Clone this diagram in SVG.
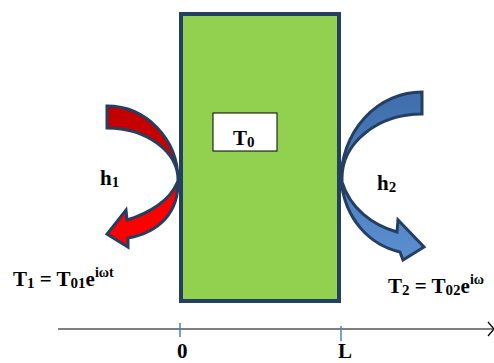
<svg xmlns="http://www.w3.org/2000/svg" width="494" height="363" viewBox="0 0 494 363">
<style>
.lbl{font-family:"Liberation Serif","Times New Roman",serif;font-weight:bold;font-size:21px;fill:#000}
.arr{stroke:#243f60;stroke-width:3;stroke-linejoin:miter}
.tick{stroke:#4f81bd;stroke-width:1.5}
</style>
<defs>
<linearGradient id="gRed" x1="0" y1="105" x2="0" y2="248" gradientUnits="userSpaceOnUse">
<stop offset="0" stop-color="#c00000"/>
<stop offset="0.5" stop-color="#d00000"/>
<stop offset="0.65" stop-color="#ff0000"/>
<stop offset="1" stop-color="#ff0000"/>
</linearGradient>
<linearGradient id="gBlue" x1="0" y1="92" x2="0" y2="260" gradientUnits="userSpaceOnUse">
<stop offset="0" stop-color="#3f6eac"/>
<stop offset="1" stop-color="#5a8fd0"/>
</linearGradient>
</defs>
<rect width="494" height="363" fill="#fff"/>
<g id="slab">
<rect x="181" y="14" width="158" height="287" fill="#92d050" stroke="#243f60" stroke-width="4"/>
</g>
<g id="t0box">
<rect x="213" y="113" width="64" height="38" fill="#fff" stroke="#000" stroke-width="1"/>
<text class="lbl" x="233" y="145">T<tspan font-size="15" dy="2">0</tspan></text>
</g>
<g id="connectors">
<path id="arrow-h1" class="arr" fill="url(#gRed)" d="M107,106 A71,74 0 0 1 178,180 C179,212 160,232 128,238 L128,247 L107,234 L126,210 L127,220 C150,213 170,200 177,183 L178,181 A71,52 0 0 0 107,128 Z"/>
<path id="arrow-h2" class="arr" fill="url(#gBlue)" d="M422,92 A81,88 0 0 0 341,180 C345,220 370,245 400,252 L403,260 L424,247 L398,220 L397,232 C372,225 350,208 342,182 L342,178 A80,64 0 0 1 422,114 Z"/>
<line x1="58" y1="329" x2="493" y2="329" stroke="#000" stroke-width="1.2"/>
<polyline points="488,322 494,329 488,336" fill="none" stroke="#000" stroke-width="1.2"/>
<line class="tick" x1="180" y1="323" x2="180" y2="337"/>
<line class="tick" x1="341" y1="326" x2="341" y2="341"/>
</g>
<g id="labels">
<text class="lbl" x="100" y="185">h<tspan font-size="15" dy="2">1</tspan></text>
<text class="lbl" x="377" y="190">h<tspan font-size="15" dy="2">2</tspan></text>
<text class="lbl" x="13" y="286">T<tspan font-size="15" dy="2">1</tspan><tspan dy="-2"> = T</tspan><tspan font-size="15" dy="2">01</tspan><tspan dy="-2">e</tspan><tspan font-size="14" dy="-9">iωt</tspan></text>
<text class="lbl" x="388" y="293">T<tspan font-size="15" dy="2">2</tspan><tspan dy="-2"> = T</tspan><tspan font-size="15" dy="2">02</tspan><tspan dy="-2">e</tspan><tspan font-size="14" dy="-9">iω</tspan></text>
<text class="lbl" x="177" y="358">0</text>
<text class="lbl" x="338" y="358">L</text>
</g>
</svg>
